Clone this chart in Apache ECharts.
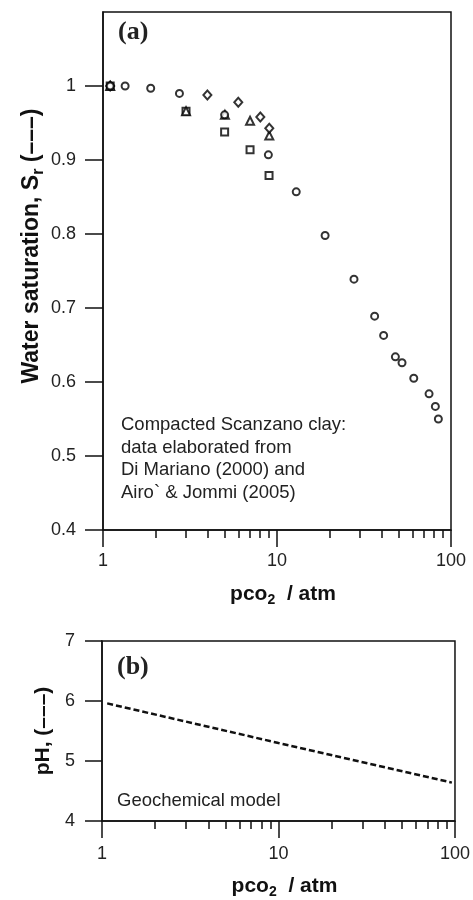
<!DOCTYPE html>
<html><head><meta charset="utf-8">
<script src="https://cdn.jsdelivr.net/npm/echarts@6/dist/echarts.min.js"></script>
<style>html,body{margin:0;padding:0;background:#fff}#c{width:473px;height:900px}</style>
</head><body><div id="c"></div>
<script>
// Panel (a): water saturation vs pCO2 (four data sets)
const circleX = [1.1, 1.34, 1.88, 2.75, 5.0, 8.92, 12.9, 18.9, 27.7, 36.4, 41.0, 47.9, 52.3, 61.1, 74.8, 81.3, 84.6];
const circleY = [1.0, 1.0, 0.997, 0.990, 0.961, 0.907, 0.857, 0.798, 0.739, 0.689, 0.663, 0.634, 0.626, 0.605, 0.584, 0.567, 0.550];
const diamondX = [1.1, 3.98, 5.99, 8.02, 9.03];
const diamondY = [1.0, 0.988, 0.978, 0.958, 0.943];
const triangleX = [1.1, 3.0, 5.02, 7.0, 9.03];
const triangleY = [1.0, 0.966, 0.961, 0.953, 0.933];
const squareX = [1.1, 3.0, 5.0, 7.0, 9.0];
const squareY = [1.0, 0.966, 0.938, 0.914, 0.879];
// Panel (b): geochemical model pH vs pCO2
const modelX = [1.07, 10, 96];
const modelY = [5.96, 5.30, 4.64];
// Ticks
const xMajor = [1, 10, 100];
const xMinor = [2, 3, 4, 5, 6, 7, 8, 9, 20, 30, 40, 50, 60, 70, 80, 90];
const yTicksA = [0.4, 0.5, 0.6, 0.7, 0.8, 0.9, 1];
const yTicksB = [4, 5, 6, 7];

const FONT = 'Liberation Sans, Arial, Helvetica, sans-serif';
const INK = '#111';
const zip = (xs, ys) => xs.map((x, i) => [x, ys[i]]);

const chart = echarts.init(document.getElementById('c'), null, {renderer: 'canvas'});

function titleRich(size) {
  return {
    m: {fontSize: size, fontWeight: 'bold', fill: INK, color: INK, fontFamily: FONT},
    sub: {fontSize: Math.round(size * 0.68), fontWeight: 'bold', fill: INK, color: INK, fontFamily: FONT, padding: [Math.round(size * 0.55), 0, 0, 0]}
  };
}

function majorX(grid, name, gap, labelMargin) {
  return {
    type: 'log', logBase: 10, gridIndex: grid, min: 1, max: 100, position: 'bottom',
    axisLine: {show: true, lineStyle: {color: INK, width: 1.5}},
    axisTick: {show: true, inside: false, length: 17, customValues: xMajor, lineStyle: {color: INK, width: 1.5}},
    axisLabel: {show: true, customValues: xMajor, margin: labelMargin, fontSize: 18, color: '#222', fontFamily: FONT},
    splitLine: {show: false}, minorTick: {show: false},
    name: name, nameLocation: 'middle', nameGap: gap,
    nameTextStyle: {fontSize: 21, fontWeight: 'bold', color: INK, fontFamily: FONT, padding: [0, 0, 0, 12], rich: titleRich(21)}
  };
}
function minorX(grid) {
  return {
    type: 'log', logBase: 10, gridIndex: grid, min: 1, max: 100, position: 'bottom',
    axisLine: {show: false},
    axisTick: {show: true, inside: false, length: 8, customValues: xMinor, lineStyle: {color: INK, width: 1.5}},
    axisLabel: {show: false}, splitLine: {show: false}
  };
}

const pco2Name = '{m|pco}{sub|2}{m|  / atm}';

const markerStyle = {color: '#fff', borderColor: '#000', borderWidth: 2};

const option = {
  backgroundColor: '#fff',
  animation: false,
  grid: [
    {left: 103, right: 22, top: 12, bottom: 370, show: true, borderColor: INK, borderWidth: 1.5, containLabel: false},
    {left: 102, right: 18, top: 641, bottom: 77, show: true, borderColor: INK, borderWidth: 1.5, containLabel: false}
  ],
  xAxis: [majorX(0, pco2Name, 51, 22), minorX(0), majorX(1, pco2Name, 52, 24), minorX(1)],
  yAxis: [
    {
      type: 'value', gridIndex: 0, min: 0.4, max: 1.1,
      axisLine: {show: true, lineStyle: {color: INK, width: 1.5}},
      axisTick: {show: true, inside: false, length: 18, customValues: yTicksA, lineStyle: {color: INK, width: 1.5}},
      axisLabel: {customValues: yTicksA, margin: 27, fontSize: 18, color: '#222', fontFamily: FONT},
      splitLine: {show: false}
    },
    {
      type: 'value', gridIndex: 1, min: 4, max: 7, interval: 1,
      axisLine: {show: true, lineStyle: {color: INK, width: 1.5}},
      axisTick: {show: true, inside: false, length: 17, customValues: yTicksB, lineStyle: {color: INK, width: 1.5}},
      axisLabel: {customValues: yTicksB, margin: 27, fontSize: 18, color: '#222', fontFamily: FONT},
      splitLine: {show: false},
      name: 'pH, (\u2013\u2013\u2013)', nameLocation: 'middle', nameGap: 46, nameRotate: 90,
      nameTextStyle: {fontSize: 21, fontWeight: 'bold', color: INK, fontFamily: FONT}
    }
  ],
  series: [
    {type: 'scatter', xAxisIndex: 0, yAxisIndex: 0, symbol: 'rect', symbolSize: 7, itemStyle: markerStyle, data: zip(squareX, squareY)},
    {type: 'scatter', xAxisIndex: 0, yAxisIndex: 0, symbol: 'triangle', symbolSize: 8, itemStyle: markerStyle, data: zip(triangleX, triangleY)},
    {type: 'scatter', xAxisIndex: 0, yAxisIndex: 0, symbol: 'diamond', symbolSize: [8, 9], itemStyle: markerStyle, data: zip(diamondX, diamondY)},
    {type: 'scatter', xAxisIndex: 0, yAxisIndex: 0, symbol: 'circle', symbolSize: 7, itemStyle: markerStyle, data: zip(circleX, circleY)},
    {type: 'line', xAxisIndex: 2, yAxisIndex: 1, symbol: 'none', showSymbol: false,
      lineStyle: {color: '#111', width: 2.5, type: [6, 3]}, data: zip(modelX, modelY)}
  ],
  graphic: [
    {type: 'text', x: 32, y: 246, rotation: Math.PI / 2, style: {
      text: '{m|Water saturation, S}{sub|r}{m| (\u2013\u2013\u2013)}', rich: titleRich(23),
      align: 'center', verticalAlign: 'middle', fill: INK}},
    {type: 'text', left: 118, top: 19, style: {text: '(a)', font: 'bold 26px "Liberation Serif", "Times New Roman", serif', fill: '#222'}},
    {type: 'text', left: 117, top: 654, style: {text: '(b)', font: 'bold 26px "Liberation Serif", "Times New Roman", serif', fill: '#222'}},
    {type: 'text', left: 121, top: 414, style: {
      text: 'Compacted Scanzano clay:\ndata elaborated from\nDi Mariano (2000) and\nAiro` & Jommi (2005)',
      font: '18.5px "Liberation Sans", Arial, sans-serif', lineHeight: 22.5, fill: '#222'}},
    {type: 'text', left: 117, top: 791, style: {text: 'Geochemical model', font: '18.5px "Liberation Sans", Arial, sans-serif', fill: '#222'}}
  ]
};
chart.setOption(option);
</script>
</body></html>
